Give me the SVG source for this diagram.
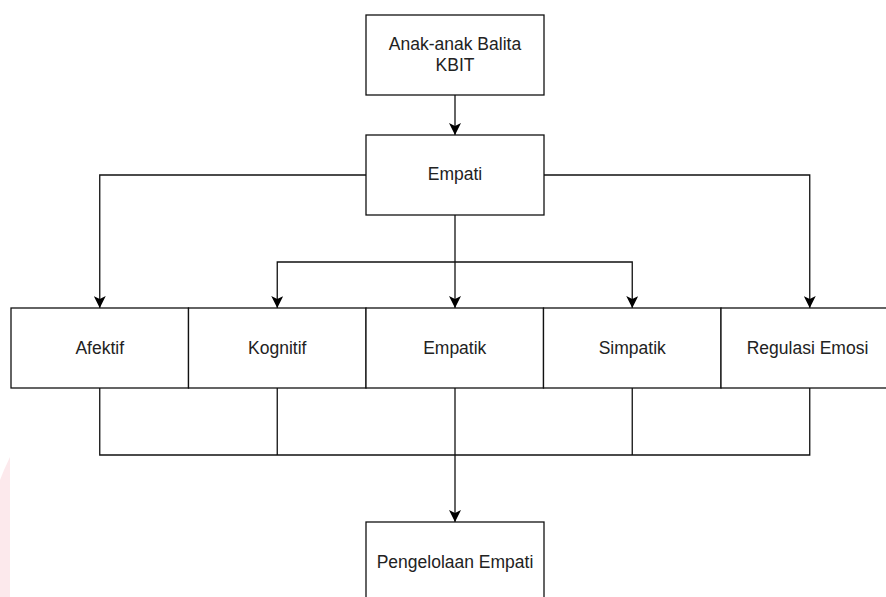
<svg xmlns="http://www.w3.org/2000/svg" width="886" height="597" viewBox="0 0 886 597">
<defs>
<style>
.box{fill:#fff;stroke:#111;stroke-width:1.3}
.lbl{font-family:"Liberation Sans",Arial,Helvetica,sans-serif;font-size:17.5px;fill:#222;text-anchor:middle}
.conn{fill:none;stroke:#111;stroke-width:1.3}
</style>
<marker id="arr" markerUnits="userSpaceOnUse" markerWidth="12" markerHeight="12" viewBox="0 0 10 10" refX="10" refY="5" orient="auto">
<path d="M0,0 L10,5 L0,10 L2.5,5 z" fill="#000"/>
</marker>
</defs>
<rect width="886" height="597" fill="#fff"/>
<path d="M10,457 L4,470 L0,480 L0,597 L10,597 Z" fill="#fbe4e7" opacity="0.8"/>
<g id="connectors">
<path class="conn" d="M455,95 V135" marker-end="url(#arr)"/>
<path class="conn" d="M366,175 H99.75 V308" marker-end="url(#arr)"/>
<path class="conn" d="M544,175 H809.75 V308" marker-end="url(#arr)"/>
<path class="conn" d="M455,215 V308" marker-end="url(#arr)"/>
<path class="conn" d="M455,262 H277.25 V308" marker-end="url(#arr)"/>
<path class="conn" d="M455,262 H632.25 V308" marker-end="url(#arr)"/>
<path class="conn" d="M99.75,388 V455 H809.75 V388"/>
<path class="conn" d="M277.25,388 V455"/>
<path class="conn" d="M632.25,388 V455"/>
<path class="conn" d="M455,388 V522" marker-end="url(#arr)"/>
</g>
<g id="anak">
<rect class="box" x="366" y="15" width="178" height="80"/>
<text class="lbl" x="455" y="50">Anak-anak Balita</text>
<text class="lbl" x="455" y="70.5">KBIT</text>
</g>
<g id="empati">
<rect class="box" x="366" y="135" width="178" height="80"/>
<text class="lbl" x="455" y="180">Empati</text>
</g>
<g id="afektif">
<rect class="box" x="11" y="308" width="177.5" height="80"/>
<text class="lbl" x="99.75" y="353.5">Afektif</text>
</g>
<g id="kognitif">
<rect class="box" x="188.5" y="308" width="177.5" height="80"/>
<text class="lbl" x="277.25" y="353.5">Kognitif</text>
</g>
<g id="empatik">
<rect class="box" x="366" y="308" width="177.5" height="80"/>
<text class="lbl" x="454.75" y="353.5">Empatik</text>
</g>
<g id="simpatik">
<rect class="box" x="543.5" y="308" width="177.5" height="80"/>
<text class="lbl" x="632.25" y="353.5">Simpatik</text>
</g>
<g id="regulasi">
<rect class="box" x="721" y="308" width="177.5" height="80"/>
<text class="lbl" x="807.5" y="353.5">Regulasi Emosi</text>
</g>
<g id="pengelolaan">
<rect class="box" x="366" y="522" width="178" height="90"/>
<text class="lbl" x="455" y="567.5">Pengelolaan Empati</text>
</g>
</svg>
